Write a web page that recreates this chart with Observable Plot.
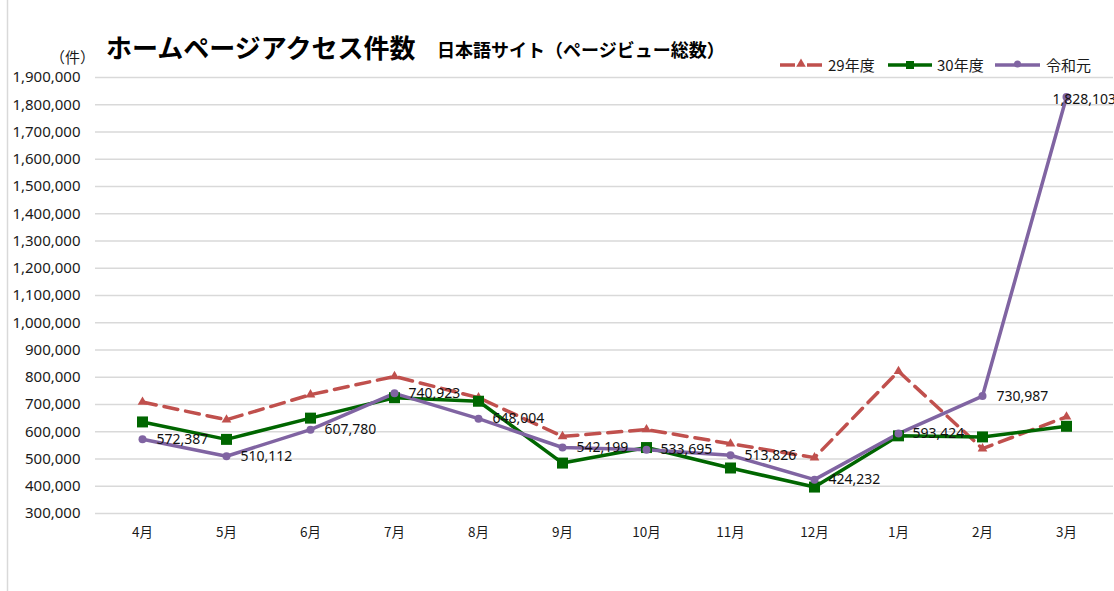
<!DOCTYPE html>
<html>
<head>
<meta charset="utf-8">
<script src="https://cdn.jsdelivr.net/npm/d3@7"></script>
<script src="https://cdn.jsdelivr.net/npm/@observablehq/plot@0.6"></script>
<style>
  body { margin: 0; background: #fff; }
  #wrap { position: relative; width: 1114px; height: 591px; overflow: hidden; background: #fff; }
  #wrap > svg { position: absolute; left: 0; top: 0; }
</style>
</head>
<body>
<div id="wrap"></div>
<script>
// ---- data ----
const months = ["4月","5月","6月","7月","8月","9月","10月","11月","12月","1月","2月","3月"];
const seriesNames = ["29年度","30年度","令和元"];
const h29 = [709000, 644000, 736000, 803000, 725000, 583000, 608000, 556000, 505000, 822000, 538000, 655000];
const h30 = [636000, 572000, 650000, 725000, 712000, 485000, 542000, 467000, 397000, 585000, 581000, 620000];
const r1  = [572387, 510112, 607780, 740923, 648004, 542199, 533695, 513826, 424232, 593424, 730987, 1828103];
const yTicks = [300000,400000,500000,600000,700000,800000,900000,1000000,1100000,1200000,1300000,1400000,1500000,1600000,1700000,1800000,1900000];
const titleText = "ホームページアクセス件数";
const subtitleText = "日本語サイト（ページビュー総数）";
const unitText = "（件）";

const colors = {"29年度": "#c0504d", "30年度": "#006600", "令和元": "#8064a2"};

const toRows = (vals, name) => months.map((m, i) => ({month: m, value: vals[i], series: name}));
const d29 = toRows(h29, "29年度");
const d30 = toRows(h30, "30年度");
const dR1 = toRows(r1, "令和元");
const fmt = d3.format(",");

const numFont = "'Noto Sans', 'Liberation Sans', sans-serif";
const jpFont = "'Noto Sans CJK JP', 'Noto Sans', sans-serif";

const chart = Plot.plot({
  width: 1114,
  height: 591,
  marginLeft: 95,
  marginRight: 1,
  marginTop: 77,
  marginBottom: 78,
  style: { background: "transparent", overflow: "hidden" },
  x: { type: "point", domain: months, padding: 0.5, label: null },
  y: { domain: [300000, 1900000], label: null },
  marks: [
    Plot.ruleY(yTicks, { stroke: "#d9d9d9", strokeWidth: 1.5 }),
    Plot.axisY({ ticks: yTicks, tickSize: 0, tickPadding: 15, tickFormat: fmt, fontSize: 15, fontFamily: numFont, fill: "#1a1a1a", label: null }),
    Plot.axisX({ tickSize: 0, tickPadding: 14, fontSize: 13.5, fontFamily: jpFont, fill: "#1a1a1a", label: null }),
    Plot.line(d29, { x: "month", y: "value", stroke: colors["29年度"], strokeWidth: 3.5, strokeDasharray: "14,8" }),
    Plot.line(d30, { x: "month", y: "value", stroke: colors["30年度"], strokeWidth: 3.5 }),
    Plot.line(dR1, { x: "month", y: "value", stroke: colors["令和元"], strokeWidth: 3.5 }),
    Plot.dot(d29, { x: "month", y: "value", symbol: "triangle", r: 3.6, fill: colors["29年度"], stroke: "none" }),
    Plot.dot(d30, { x: "month", y: "value", symbol: "square", r: 6.2, fill: colors["30年度"], stroke: "none" }),
    Plot.dot(dR1, { x: "month", y: "value", symbol: "circle", r: 4, fill: colors["令和元"], stroke: "none" }),
    Plot.text(dR1.slice(0, 11), { x: "month", y: "value", text: d => fmt(d.value), dx: 14, textAnchor: "start", fontSize: 14, fontFamily: numFont, fill: "#111" }),
    Plot.text(dR1.slice(11), { x: "month", y: "value", text: d => fmt(d.value), dx: -14, dy: 2, textAnchor: "start", fontSize: 14, fontFamily: numFont, fill: "#111" })
  ]
});

const wrap = document.getElementById("wrap");
wrap.appendChild(chart);

// ---- overlay: border, title, legend ----
const ov = d3.select(wrap).append("svg")
  .attr("width", 1114).attr("height", 591)
  .style("pointer-events", "none");

ov.append("line").attr("x1", 7.5).attr("x2", 7.5).attr("y1", 0).attr("y2", 591)
  .attr("stroke", "#d9d9d9").attr("stroke-width", 1.5);

ov.append("text").attr("x", 106).attr("y", 58)
  .attr("font-family", jpFont).attr("font-weight", "bold").attr("font-size", 26)
  .attr("fill", "#000").text(titleText);

ov.append("text").attr("x", 437).attr("y", 57)
  .attr("font-family", jpFont).attr("font-weight", "bold").attr("font-size", 18)
  .attr("fill", "#000").text(subtitleText);

ov.append("text").attr("x", 50).attr("y", 63)
  .attr("font-family", jpFont).attr("font-size", 15)
  .attr("fill", "#1a1a1a").text(unitText);

// legend
const legY = 65;
const leg = [
  { name: seriesNames[0], x0: 780, x1: 822, tx: 828, dash: "15,12", sym: "triangle" },
  { name: seriesNames[1], x0: 888, x1: 932, tx: 937, dash: null, sym: "square" },
  { name: seriesNames[2], x0: 995, x1: 1040, tx: 1046, dash: null, sym: "circle" }
];
leg.forEach(l => {
  const c = colors[l.name];
  const ln = ov.append("line").attr("x1", l.x0).attr("x2", l.x1).attr("y1", legY).attr("y2", legY)
    .attr("stroke", c).attr("stroke-width", 3.5);
  if (l.dash) ln.attr("stroke-dasharray", l.dash);
  const cx = (l.x0 + l.x1) / 2;
  if (l.sym === "triangle") {
    ov.append("path").attr("d", d3.symbol(d3.symbolTriangle, 40)()).attr("transform", `translate(${cx},${legY - 1})`).attr("fill", c);
  } else if (l.sym === "square") {
    ov.append("rect").attr("x", cx - 4).attr("y", legY - 4).attr("width", 8).attr("height", 8).attr("fill", c);
  } else {
    ov.append("circle").attr("cx", cx).attr("cy", legY - 1).attr("r", 3.5).attr("fill", c);
  }
  ov.append("text").attr("x", l.tx).attr("y", legY + 5.5)
    .attr("font-family", jpFont).attr("font-size", 15).attr("fill", "#1a1a1a").text(l.name);
});
</script>
</body>
</html>
